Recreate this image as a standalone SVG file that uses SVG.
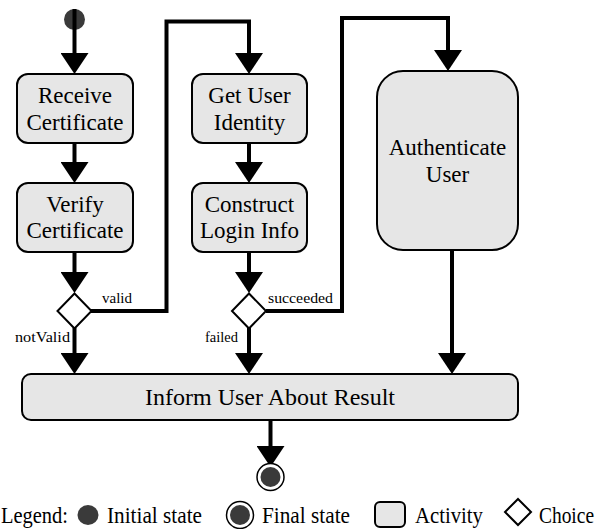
<svg xmlns="http://www.w3.org/2000/svg" width="599" height="529" viewBox="0 0 599 529">
  <style>
    .act { fill: #e6e6e6; stroke: #000; stroke-width: 2; }
    .choice { fill: #fff; stroke: #000; stroke-width: 2; }
    .state { fill: #3a3a3a; }
    .ring { fill: #fff; stroke: #000; stroke-width: 1.5; }
    .edge { fill: none; stroke: #000; stroke-width: 4; marker-end: url(#head); }
    text { font-family: "Liberation Serif", "Times New Roman", serif; fill: #000; }
    .lbl { font-size: 23px; text-anchor: middle; }
    .elbl { font-size: 15.5px; }
    .leg { font-size: 22.5px; }
  </style>
  <defs>
    <marker id="head" viewBox="0 0 21 28" refX="0" refY="14" markerWidth="21" markerHeight="28" markerUnits="userSpaceOnUse" orient="auto">
      <path d="M0,0 L21,14 L0,28 z" fill="#000"/>
    </marker>
  </defs>
  <rect width="599" height="529" fill="#fff"/>

  <g id="start">
    <circle class="state" cx="74.5" cy="19.5" r="10.5"/>
  </g>

  <!-- connectors (lines end at the arrowhead base) -->
  <g id="connectors">
    <path class="edge" d="M74.5,9 V53"/>
    <path class="edge" d="M74.5,143 V162"/>
    <path class="edge" d="M74.5,252 V272"/>
    <path class="edge" d="M74.5,328 V353"/>
    <path class="edge" d="M91,311 H166.5 V21.5 H249 V53"/>
    <path class="edge" d="M249,143 V162"/>
    <path class="edge" d="M249,252 V272"/>
    <path class="edge" d="M249,328 V353"/>
    <path class="edge" d="M266,311 H342 V18 H448 V50"/>
    <path class="edge" d="M452,250 V353"/>
    <path class="edge" d="M270.5,420 V446"/>
    <text class="elbl" x="102" y="303" textLength="30" lengthAdjust="spacingAndGlyphs">valid</text>
    <text class="elbl" x="15" y="342" textLength="55" lengthAdjust="spacingAndGlyphs">notValid</text>
    <text class="elbl" x="268" y="303" textLength="65" lengthAdjust="spacingAndGlyphs">succeeded</text>
    <text class="elbl" x="205" y="342" textLength="33" lengthAdjust="spacingAndGlyphs">failed</text>
  </g>

  <g id="receiveCertificate">
    <rect class="act" x="17" y="74" width="116" height="69" rx="11"/>
    <text class="lbl" x="75" y="103">Receive</text>
    <text class="lbl" x="75" y="130">Certificate</text>
  </g>

  <g id="verifyCertificate">
    <rect class="act" x="17" y="183" width="116" height="69" rx="11"/>
    <text class="lbl" x="75" y="212">Verify</text>
    <text class="lbl" x="75" y="238">Certificate</text>
  </g>

  <g id="choiceValid">
    <polygon class="choice" points="74.5,293.5 91.5,311 74.5,328.5 57.5,311"/>
  </g>

  <g id="getUserIdentity">
    <rect class="act" x="192" y="74" width="115" height="69" rx="11"/>
    <text class="lbl" x="249.5" y="103">Get User</text>
    <text class="lbl" x="249.5" y="130">Identity</text>
  </g>

  <g id="constructLoginInfo">
    <rect class="act" x="192" y="183" width="115" height="69" rx="11"/>
    <text class="lbl" x="249.5" y="212">Construct</text>
    <text class="lbl" x="249.5" y="238">Login Info</text>
  </g>

  <g id="choiceSucceeded">
    <polygon class="choice" points="249,293.5 266,311 249,328.5 232,311"/>
  </g>

  <g id="authenticateUser">
    <rect class="act" x="377" y="71" width="141" height="179" rx="26"/>
    <text class="lbl" x="447.5" y="155">Authenticate</text>
    <text class="lbl" x="447.5" y="182">User</text>
  </g>

  <g id="informUser">
    <rect class="act" x="22" y="374" width="496" height="46" rx="9"/>
    <text class="lbl" x="270" y="405" textLength="250" lengthAdjust="spacingAndGlyphs">Inform User About Result</text>
  </g>

  <g id="final">
    <circle class="ring" cx="270.5" cy="477" r="13.5"/>
    <circle class="state" cx="270.5" cy="477" r="10"/>
  </g>

  <!-- legend -->
  <g id="legend">
    <text class="leg" x="1" y="523" textLength="67" lengthAdjust="spacingAndGlyphs">Legend:</text>
    <ellipse class="state" cx="88" cy="515" rx="10.5" ry="10"/>
    <text class="leg" x="107" y="523" textLength="95" lengthAdjust="spacingAndGlyphs">Initial state</text>
    <circle class="ring" cx="240" cy="515" r="13.5"/>
    <circle class="state" cx="240" cy="515" r="10"/>
    <text class="leg" x="262" y="523" textLength="88" lengthAdjust="spacingAndGlyphs">Final state</text>
    <rect class="act" x="375" y="502" width="30" height="25" rx="5"/>
    <text class="leg" x="415" y="523" textLength="68" lengthAdjust="spacingAndGlyphs">Activity</text>
    <polygon class="choice" points="518,499 531,512 518,525 505,512"/>
    <text class="leg" x="539" y="523" textLength="55" lengthAdjust="spacingAndGlyphs">Choice</text>
  </g>
</svg>
